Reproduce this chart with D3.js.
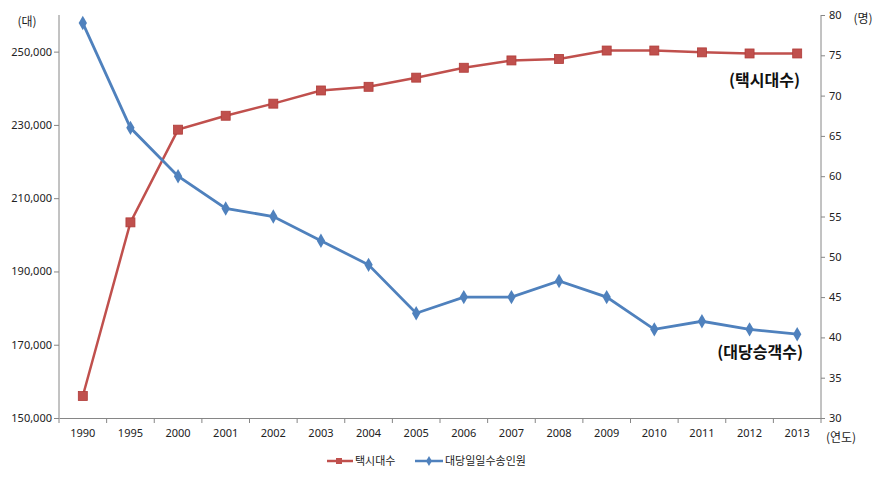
<!DOCTYPE html>
<html><head><meta charset="utf-8">
<script src="https://cdn.jsdelivr.net/npm/d3@7"></script>
<style>
body{margin:0;background:#fff;}
text{font-family:"Noto Sans CJK KR","Noto Sans",sans-serif;}
</style></head>
<body><svg id="c" width="885" height="478"></svg>
<script>
const years = ["1990","1995","2000","2001","2002","2003","2004","2005","2006","2007","2008","2009","2010","2011","2012","2013"];
const taxiCount = [156000,203400,228700,232500,235800,239400,240400,242900,245600,247600,248000,250300,250300,249800,249500,249500];
const passengersPerTaxi = [79,66,60,56,55,52,49,43,45,45,47,45,41,42,41,40.4];
const leftTicks = [150000,170000,190000,210000,230000,250000];
const rightTicks = [30,35,40,45,50,55,60,65,70,75,80];
const seriesNames = ["택시대수","대당일일수송인원"];

const svg = d3.select("#c");
const L = 59, R = 821, T = 15, B = 418;
const red = "#C0504D", blue = "#4F81BD";

const x = d3.scaleBand().domain(years).range([L, R]);
const yL = d3.scaleLinear().domain([150000, 260000]).range([B, T]);
const yR = d3.scaleLinear().domain([30, 80]).range([B, T]);

const fmt = d3.format(",");
const axL = svg.append("g").attr("transform", `translate(${L},0)`)
  .call(d3.axisLeft(yL).tickValues(leftTicks).tickFormat(fmt).tickSize(5).tickSizeOuter(0));
const axR = svg.append("g").attr("transform", `translate(${R},0)`)
  .call(d3.axisRight(yR).tickValues(rightTicks).tickSize(4).tickSizeOuter(0));
const axB = svg.append("g").attr("transform", `translate(0,${B})`)
  .call(d3.axisBottom(x).tickSize(0).tickSizeOuter(0));
// tick marks between categories
axB.selectAll(".sep").data(years).enter().append("line")
  .attr("x1", d => x(d) + x.bandwidth()).attr("x2", d => x(d) + x.bandwidth())
  .attr("y1", 0).attr("y2", 5).attr("stroke", "#868686");
axB.append("line").attr("x1", L).attr("x2", L).attr("y1", 0).attr("y2", 5).attr("stroke", "#868686");

[axL, axR, axB].forEach(a => {
  a.selectAll("path.domain").attr("stroke", "#868686");
  a.selectAll(".tick line").attr("stroke", "#868686");
  a.selectAll("text").attr("fill", "#222").style("font-size", "11px")
    .style("font-family", "'Noto Sans','DejaVu Sans',sans-serif");
});
// left axis line full height
axL.select("path.domain").attr("d", `M0,${B - 0}V${T}`);
axR.select("path.domain").attr("d", `M0,${B}V${T}`);
axL.selectAll(".tick text").attr("x", -7);
axR.selectAll(".tick text").attr("x", 8);
axB.selectAll(".tick text").attr("y", 11);

const cx = d => x(d) + x.bandwidth() / 2;

const lineT = d3.line().x((d, i) => cx(years[i])).y(d => yL(d));
const lineP = d3.line().x((d, i) => cx(years[i])).y(d => yR(d));

svg.append("path").attr("d", lineT(taxiCount)).attr("fill", "none").attr("stroke", red).attr("stroke-width", 2.5);
svg.append("path").attr("d", lineP(passengersPerTaxi)).attr("fill", "none").attr("stroke", blue).attr("stroke-width", 2.8);

svg.append("g").selectAll("rect").data(taxiCount).enter().append("rect")
  .attr("x", (d, i) => cx(years[i]) - 4.5).attr("y", d => yL(d) - 4.5)
  .attr("width", 9).attr("height", 9).attr("fill", red).attr("stroke", "#B03C39").attr("stroke-width", 0.8);
const dia = d3.symbol().type(d3.symbolDiamond).size(60);
svg.append("g").selectAll("path").data(passengersPerTaxi).enter().append("path")
  .attr("d", dia).attr("transform", (d, i) => `translate(${cx(years[i])},${yR(d)})`).attr("fill", blue);

// unit labels
svg.append("text").attr("x", 27).attr("y", 26).attr("text-anchor", "middle").style("font-size", "12px").attr("fill", "#222").text("(대)");
svg.append("text").attr("x", 863).attr("y", 23).attr("text-anchor", "middle").style("font-size", "12px").attr("fill", "#222").text("(명)");
svg.append("text").attr("x", 841).attr("y", 442).attr("text-anchor", "middle").style("font-size", "12px").attr("fill", "#222").text("(연도)");

// annotations
svg.append("text").attr("x", 800).attr("y", 86).attr("text-anchor", "end").style("font-size", "16px").style("font-weight", "bold").attr("fill", "#111").text("(택시대수)");
svg.append("text").attr("x", 803).attr("y", 358).attr("text-anchor", "end").style("font-size", "16px").style("font-weight", "bold").attr("fill", "#111").text("(대당승객수)");

// legend
const lg = svg.append("g");
lg.append("line").attr("x1", 327).attr("x2", 353).attr("y1", 461).attr("y2", 461).attr("stroke", red).attr("stroke-width", 2.5);
lg.append("rect").attr("x", 336).attr("y", 458).attr("width", 6).attr("height", 6).attr("fill", red);
lg.append("text").attr("x", 355).attr("y", 465).style("font-size", "11px").attr("fill", "#222").text(seriesNames[0]);
lg.append("line").attr("x1", 415).attr("x2", 443).attr("y1", 461).attr("y2", 461).attr("stroke", blue).attr("stroke-width", 2.5);
lg.append("path").attr("d", d3.symbol().type(d3.symbolDiamond).size(30)).attr("transform", "translate(429,461)").attr("fill", blue);
lg.append("text").attr("x", 445).attr("y", 465).style("font-size", "11px").attr("fill", "#222").text(seriesNames[1]);
</script></body></html>
